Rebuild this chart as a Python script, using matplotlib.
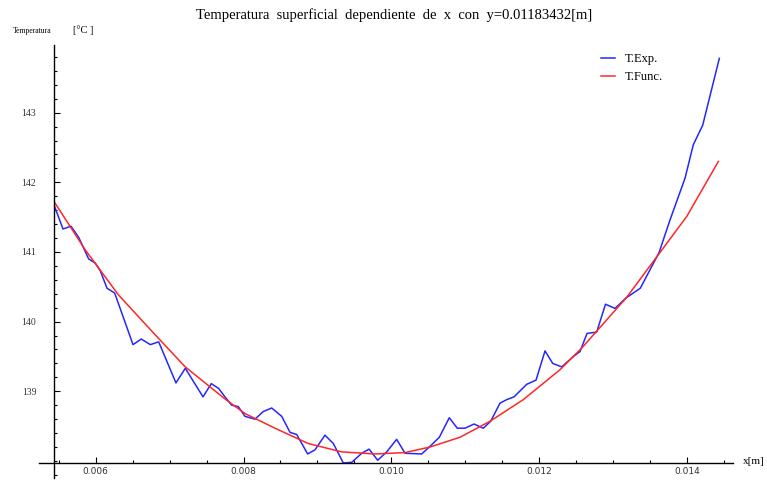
import numpy as np
import matplotlib
matplotlib.use("Agg")
import matplotlib.pyplot as plt
from matplotlib.ticker import MultipleLocator, FixedLocator, FormatStrFormatter

# measured surface temperature along x (y fixed)
x_exp = [0.005445, 0.005558, 0.005666, 0.005770, 0.005905, 0.005995, 0.006062,
         0.006153, 0.006257, 0.006505, 0.006617, 0.006739, 0.006852, 0.007086,
         0.007212, 0.007452, 0.007564, 0.007664, 0.007749, 0.007840, 0.007929,
         0.008020, 0.008155, 0.008268, 0.008381, 0.008517, 0.008629, 0.008719,
         0.008868, 0.008967, 0.009102, 0.009215, 0.009350, 0.009464, 0.009599,
         0.009698, 0.009815, 0.009937, 0.010072, 0.010185, 0.010411, 0.010523,
         0.010649, 0.010784, 0.010892, 0.010997, 0.011118, 0.011244, 0.011344,
         0.011470, 0.011561, 0.011660, 0.011831, 0.011957, 0.012079, 0.012183,
         0.012305, 0.012462, 0.012552, 0.012647, 0.012778, 0.012897, 0.013026,
         0.013175, 0.013368, 0.013621, 0.013770, 0.013973, 0.014085, 0.014212,
         0.014437]
t_exp = [141.65, 141.33, 141.37, 141.21, 140.90, 140.84, 140.73,
         140.48, 140.41, 139.67, 139.75, 139.67, 139.71, 139.12,
         139.33, 138.92, 139.11, 139.04, 138.92, 138.80, 138.78,
         138.64, 138.60, 138.71, 138.76, 138.64, 138.41, 138.38,
         138.10, 138.16, 138.37, 138.25, 137.97, 137.98, 138.11,
         138.17, 138.01, 138.13, 138.31, 138.11, 138.10, 138.21,
         138.34, 138.62, 138.47, 138.47, 138.53, 138.47, 138.57,
         138.83, 138.88, 138.92, 139.10, 139.16, 139.58, 139.40,
         139.35, 139.50, 139.57, 139.83, 139.85, 140.25, 140.19,
         140.34, 140.48, 140.99, 141.46, 142.06, 142.54, 142.82,
         143.78]

# fitted temperature function
x_fit = [0.005445, 0.005859, 0.006311, 0.006762, 0.007212, 0.007749, 0.008020,
         0.008426, 0.008876, 0.009328, 0.009779, 0.010185, 0.010523, 0.010929,
         0.011335, 0.011785, 0.012282, 0.012575, 0.013184, 0.013590, 0.013996,
         0.014424]
t_fit = [141.71, 141.03, 140.38, 139.86, 139.35, 138.89, 138.68,
         138.47, 138.25, 138.13, 138.10, 138.12, 138.20, 138.34,
         138.57, 138.88, 139.31, 139.62, 140.35, 140.93, 141.51,
         142.30]

x_ticks = [0.006, 0.008, 0.010, 0.012, 0.014]
y_ticks = [139, 140, 141, 142, 143]

W, H = 767, 483
fig = plt.figure(figsize=(W / 100, H / 100), dpi=100)
ax = fig.add_axes([39 / W, 5 / H, (733 - 39) / W, (478 - 45) / H])

ax.plot(x_exp, t_exp, color=(0.15, 0.15, 1.0), lw=1.1, label="T.Exp.")
ax.plot(x_fit, t_fit, color=(1.0, 0.15, 0.15), lw=1.1, label="T.Func.")

ax.set_xlim(0.005233, 0.014622)
ax.set_ylim(137.755, 143.972)

# axes cross at the lower-left corner of the data
for s in ("top", "right"):
    ax.spines[s].set_visible(False)
ax.spines["left"].set_position(("data", 0.005440))
ax.spines["bottom"].set_position(("data", 137.966))
for s in ("left", "bottom"):
    ax.spines[s].set_linewidth(1.0)

ax.xaxis.set_major_locator(FixedLocator(x_ticks))
ax.xaxis.set_minor_locator(MultipleLocator(0.0005))
ax.yaxis.set_major_locator(FixedLocator(y_ticks))
ax.yaxis.set_minor_locator(MultipleLocator(0.2))
ax.xaxis.set_major_formatter(FormatStrFormatter("%.3f"))
ax.yaxis.set_major_formatter(FormatStrFormatter("%d"))

ax.tick_params(axis="both", which="major", direction="in", length=4, width=0.8)
ax.tick_params(axis="both", which="minor", direction="in", length=2.2, width=0.8)
ax.tick_params(axis="x", which="major", pad=3, labelsize=6.5, labelcolor="#333333")
ax.tick_params(axis="y", which="major", pad=13, labelsize=7, labelcolor="#333333")
for lab in ax.get_yticklabels():
    lab.set_family("Liberation Serif")

fig.text(394 / W, 1 - 15 / H,
         "Temperatura  superficial  dependiente  de  x  con  y=0.01183432[m]",
         ha="center", va="center", family="Liberation Serif", fontsize=10.5)
fig.text(13 / W, 1 - 31 / H, "Temperatura", ha="left", va="center",
         family="Liberation Serif", fontsize=5.5)
fig.text(73 / W, 1 - 30 / H, "[\u00b0C ]", ha="left", va="center",
         family="Liberation Serif", fontsize=7.5)
fig.text(743 / W, 1 - 462 / H, "x[m]", ha="left", va="center",
         family="Liberation Serif", fontsize=8)

ax.legend(loc="upper left", bbox_to_anchor=(590 / W, 1 - 42 / H),
          bbox_transform=fig.transFigure, frameon=False, handlelength=1.1,
          handletextpad=0.8, labelspacing=0.45,
          prop={"family": "Liberation Serif", "size": 9})

fig.savefig("out.png", dpi=100)
